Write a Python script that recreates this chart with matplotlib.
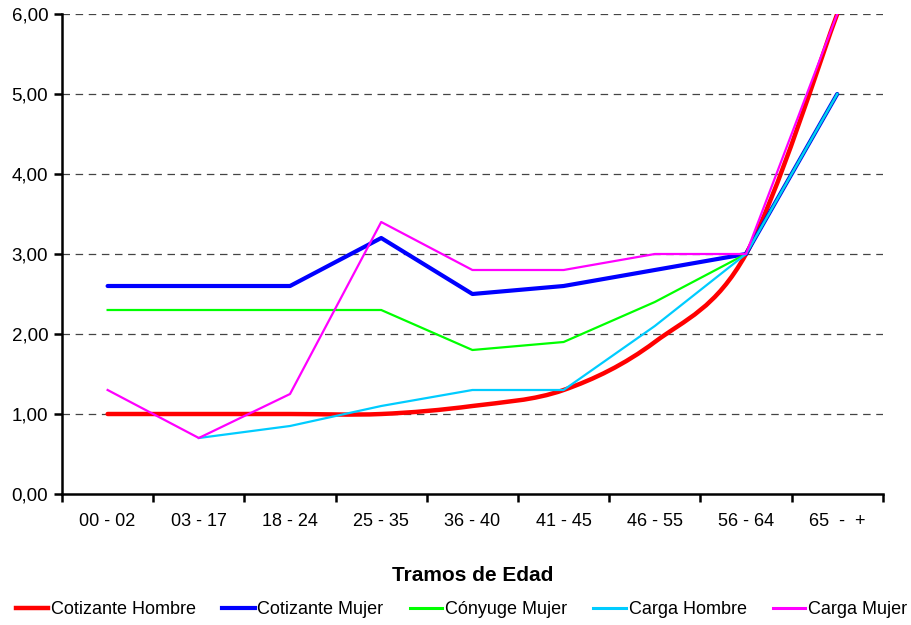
import numpy as np
import matplotlib
matplotlib.use("Agg")
from matplotlib import pyplot as plt
from matplotlib.path import Path
from matplotlib.patches import PathPatch
from matplotlib.lines import Line2D

plt.rcParams['font.family'] = ['Liberation Sans', 'DejaVu Sans']

tramos = ['00 - 02', '03 - 17', '18 - 24', '25 - 35', '36 - 40',
          '41 - 45', '46 - 55', '56 - 64', '65  -  +']
cotizante_hombre = [1.0, 1.0, 1.0, 1.0, 1.1, 1.3, 1.9, 3.0, 6.0]
cotizante_mujer = [2.6, 2.6, 2.6, 3.2, 2.5, 2.6, 2.8, 3.0, 5.0]
conyuge_mujer = [2.3, 2.3, 2.3, 2.3, 1.8, 1.9, 2.4, 3.0, 5.0]
carga_hombre = [None, 0.7, 0.85, 1.1, 1.3, 1.3, 2.1, 3.0, 5.0]
carga_mujer = [1.3, 0.7, 1.25, 3.4, 2.8, 2.8, 3.0, 3.0, 6.0]


def smooth_path(xs, ys):
    # bezier through the points, like excel's smoothed line
    p = np.column_stack([xs, ys]).astype(float)
    n = len(p)
    verts = [p[0]]
    codes = [Path.MOVETO]
    for i in range(n - 1):
        p0 = p[i - 1] if i > 0 else p[i]
        p3 = p[i + 2] if i + 2 < n else p[i + 1]
        c1 = p[i] + (p[i + 1] - p0) / 6
        c2 = p[i + 1] - (p3 - p[i]) / 6
        verts += [c1, c2, p[i + 1]]
        codes += [Path.CURVE4] * 3
    return Path(verts, codes)


fig = plt.figure(figsize=(9.12, 6.25), dpi=100)
ax = fig.add_axes([0.068, 0.2096, 0.9, 0.768])

x = np.arange(len(tramos))

ax.add_patch(PathPatch(smooth_path(x, cotizante_hombre), fill=False,
                       edgecolor='#ff0000', lw=3.2, zorder=3,
                       capstyle='round'))
ax.plot(x, cotizante_mujer, color='#0000ff', lw=3.0, zorder=3,
        solid_capstyle='round')
ax.plot(x, conyuge_mujer, color='#00ff00', lw=1.6, zorder=3)
xh = [xi for xi, v in zip(x, carga_hombre) if v is not None]
yh = [v for v in carga_hombre if v is not None]
ax.plot(xh, yh, color='#00ccff', lw=1.6, zorder=3)
ax.plot(x, carga_mujer, color='#ff00ff', lw=1.6, zorder=4)

ax.set_xlim(-0.5, len(tramos) - 0.5)
ax.set_ylim(0, 6)

ax.set_yticks(np.arange(0, 7, 1))
ax.set_yticklabels([f'{v:.2f}'.replace('.', ',') for v in range(7)],
                   fontsize=13.5)
for v in range(1, 7):
    ax.axhline(v, color='#444444', lw=0.9, dashes=(6, 4.5), zorder=1)

ax.set_xticks(np.arange(-0.5, len(tramos), 1))
ax.set_xticklabels([])
ax.set_xticks(x, minor=True)
ax.set_xticklabels(tramos, minor=True, fontsize=13)
ax.tick_params(axis='x', which='major', direction='out', length=6,
               width=1.8)
ax.tick_params(axis='x', which='minor', length=0, pad=14)
ax.tick_params(axis='y', direction='out', length=6, width=1.8, pad=4)

for s in ['top', 'right']:
    ax.spines[s].set_visible(False)
for s in ['left', 'bottom']:
    ax.spines[s].set_linewidth(1.8)

ax.set_xlabel('Tramos de Edad', fontsize=15, fontweight='bold')
ax.xaxis.set_label_coords(0.5, -0.15)

handles = [
    Line2D([], [], color='#ff0000', lw=3.2),
    Line2D([], [], color='#0000ff', lw=3.0),
    Line2D([], [], color='#00ff00', lw=2.2),
    Line2D([], [], color='#00ccff', lw=2.2),
    Line2D([], [], color='#ff00ff', lw=2.2),
]
labels = ['Cotizante Hombre', 'Cotizante Mujer', 'Cónyuge Mujer',
          'Carga Hombre', 'Carga Mujer']
fig.legend(handles, labels, loc='center', bbox_to_anchor=(0.506, 0.024),
           ncol=5, frameon=False, fontsize=13, handlelength=1.8,
           handletextpad=0.15, columnspacing=1.45)

fig.savefig('out.png', dpi=100)
